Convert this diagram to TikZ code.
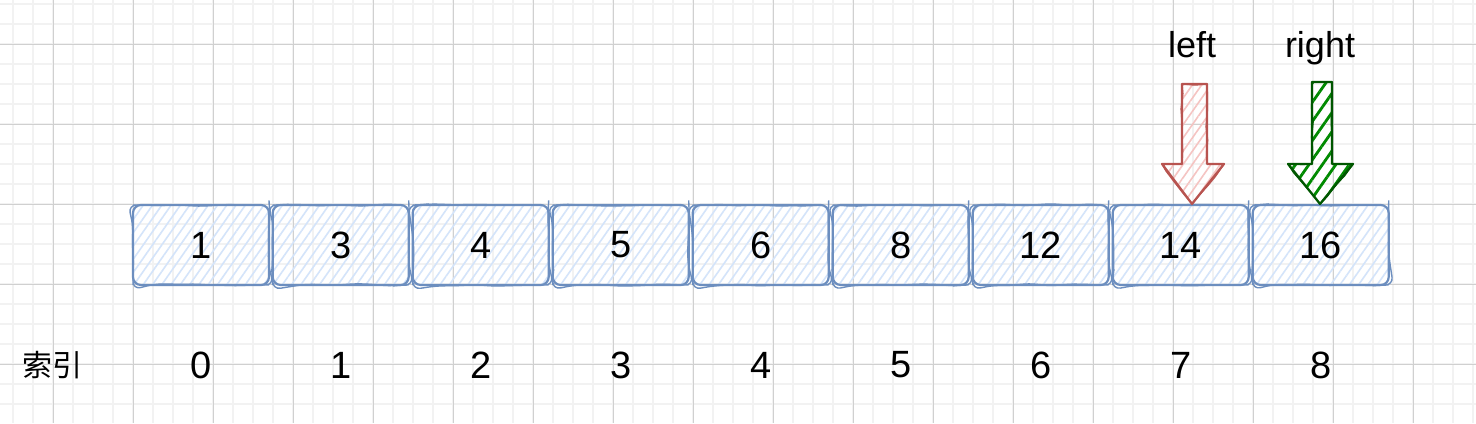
\documentclass[tikz,border=0pt]{standalone}
\usepackage{fontspec}
\setmainfont{Liberation Sans}
\newfontfamily\cjk{Noto Sans CJK SC}
\usetikzlibrary{positioning,patterns.meta,decorations.pathmorphing,calc}

\definecolor{gridminor}{HTML}{F2F2F2}
\definecolor{gridmajor}{HTML}{D0D0D0}
\definecolor{cellline}{HTML}{6C8EBF}
\definecolor{cellhatch}{HTML}{D4E4FA}
\definecolor{leftline}{HTML}{B85450}
\definecolor{lefthatch}{HTML}{F5C4C2}
\definecolor{rightline}{HTML}{005700}
\definecolor{righthatch}{HTML}{008A00}

\tikzset{
  sketch/.style={decorate, decoration={random steps, segment length=7pt, amplitude=0.6pt}},
  cell/.style={draw=cellline, line width=1.1pt, rounded corners=4pt,
    minimum width=68pt, minimum height=40pt, inner sep=0pt,
    pattern={Lines[angle=55,distance=3.8pt,line width=0.8pt]}, pattern color=cellhatch,
    font=\fontsize{19}{22}\selectfont,
    postaction={draw=cellline, line width=0.7pt, sketch}},
  idx/.style={inner sep=0pt, font=\fontsize{19}{22}\selectfont},
  ptr/.style={inner sep=0pt, anchor=base, font=\fontsize{18}{22}\selectfont},
  leftarrow/.style={draw=leftline, line width=1.1pt, line join=round,
    pattern={Lines[angle=55,distance=3.8pt,line width=0.8pt]}, pattern color=lefthatch,
    postaction={draw=leftline, line width=0.7pt, sketch}},
  rightarrow/.style={draw=rightline, line width=1.1pt, line join=round,
    pattern={Lines[angle=55,distance=5.5pt,line width=1.4pt]}, pattern color=righthatch,
    postaction={draw=rightline, line width=0.7pt, sketch}}
}

\begin{document}
\begin{tikzpicture}[x=0.5pt, y=-0.5pt]
\pgfmathsetseed{7}
\useasboundingbox (0,0) rectangle (1476,423);

% 背景网格
\fill[white] (0,0) rectangle (1476,423);
\foreach \x in {13,33,...,1473} \draw[gridminor, line width=0.65pt] (\x,0) -- (\x,423);
\foreach \y in {4,24,...,423} \draw[gridminor, line width=0.65pt] (0,\y) -- (1476,\y);
\foreach \x in {53,133,...,1413} \draw[gridmajor, line width=0.45pt] (\x,0) -- (\x,423);
\foreach \y in {44,124,...,364} \draw[gridmajor, line width=0.45pt] (0,\y) -- (1476,\y);

% 数组元素
\node[cell] (c0) at (201,245) {1};
\foreach \v [count=\i, remember=\i as \j (initially 0)] in {3,4,5,6,8,12,14,16}
  \node[cell, right=0.9pt of c\j] (c\i) {\v};

% 索引
\node[idx] (lbl) at (52,365) {\cjk\fontsize{15}{18}\selectfont 索引};
\foreach \n in {0,...,8}
  \node[idx] (i\n) at (c\n |- lbl) {\n};

% 左右指针
\node[ptr] (pl) at (1192,57) {left};
\node[ptr] (pr) at (1320,57) {right};

\draw[leftarrow] (pl.base |- c7.north) -- ++(-30,-40) -- ++(20,0) -- ++(0,-80)
  -- ++(25,0) -- ++(0,80) -- ++(17,0) -- cycle;
\draw[rightarrow] (pr.base |- c8.north) -- ++(-32,-40) -- ++(24,0) -- ++(0,-82)
  -- ++(20,0) -- ++(0,82) -- ++(21,0) -- cycle;
\end{tikzpicture}
\end{document}
